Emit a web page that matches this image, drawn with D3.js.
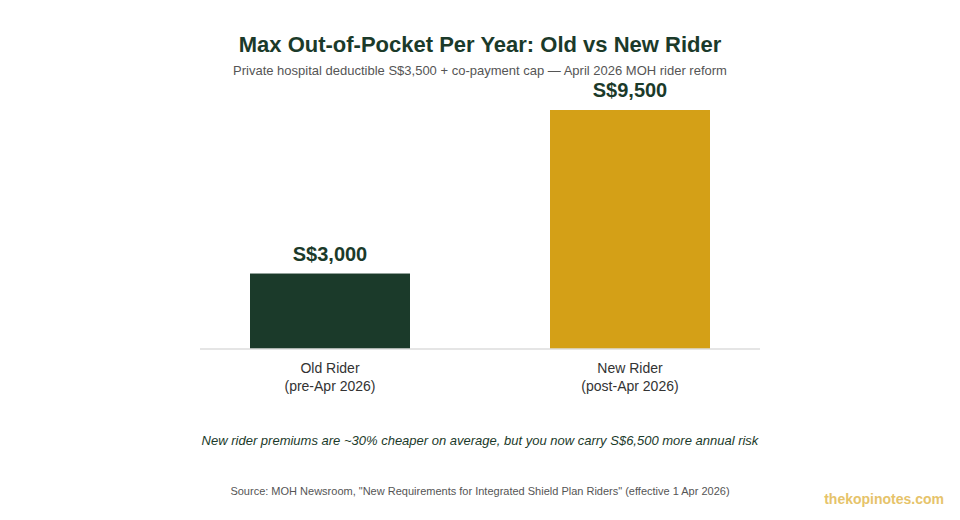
<!DOCTYPE html>
<html>
<head>
<meta charset="utf-8">
<script src="https://cdn.jsdelivr.net/npm/d3@7"></script>
<style>
  body { margin: 0; background: #fff; }
  svg { display: block; font-family: "Liberation Sans", Arial, Helvetica, sans-serif; }
</style>
</head>
<body>
<svg id="chart" width="960" height="520"></svg>
<script>
// data
const riders = ["Old Rider", "New Rider"];
const riderNotes = ["(pre-Apr 2026)", "(post-Apr 2026)"];
const maxOutOfPocket = [3000, 9500];
const barColors = ["#1b3a2a", "#d4a017"];

const svg = d3.select("#chart");
const green = "#1b3a2a";

const x = d3.scaleBand()
  .domain(riders)
  .range([200, 760])
  .paddingInner(0.4667)
  .paddingOuter(0.1667);

const y = d3.scaleLinear()
  .domain([0, d3.max(maxOutOfPocket)])
  .range([349, 110]);

// title
svg.append("text")
  .attr("x", 480).attr("y", 52)
  .attr("text-anchor", "middle")
  .attr("font-size", 22).attr("font-weight", "bold")
  .attr("fill", green)
  .text("Max Out-of-Pocket Per Year: Old vs New Rider");

svg.append("text")
  .attr("x", 480).attr("y", 75)
  .attr("text-anchor", "middle")
  .attr("font-size", 13)
  .attr("fill", "#555")
  .text("Private hospital deductible S$3,500 + co-payment cap \u2014 April 2026 MOH rider reform");

// bars
svg.selectAll("rect.bar")
  .data(riders)
  .enter().append("rect")
  .attr("class", "bar")
  .attr("x", d => x(d))
  .attr("width", x.bandwidth())
  .attr("y", (d, i) => y(maxOutOfPocket[i]))
  .attr("height", (d, i) => y(0) - y(maxOutOfPocket[i]))
  .attr("fill", (d, i) => barColors[i]);

// baseline
svg.append("line")
  .attr("x1", 200).attr("x2", 760)
  .attr("y1", y(0)).attr("y2", y(0))
  .attr("stroke", "#ddd").attr("stroke-width", 1.5);

// value labels
svg.selectAll("text.val")
  .data(riders)
  .enter().append("text")
  .attr("class", "val")
  .attr("x", d => x(d) + x.bandwidth() / 2)
  .attr("y", (d, i) => y(maxOutOfPocket[i]) - 13)
  .attr("text-anchor", "middle")
  .attr("font-size", 20).attr("font-weight", "bold")
  .attr("fill", green)
  .text((d, i) => "S$" + d3.format(",")(maxOutOfPocket[i]));

// category labels
const cat = svg.selectAll("text.cat")
  .data(riders)
  .enter().append("text")
  .attr("class", "cat")
  .attr("text-anchor", "middle")
  .attr("font-size", 14)
  .attr("fill", "#333");
cat.append("tspan")
  .attr("x", d => x(d) + x.bandwidth() / 2)
  .attr("y", 373)
  .text(d => d);
cat.append("tspan")
  .attr("x", d => x(d) + x.bandwidth() / 2)
  .attr("y", 391)
  .text((d, i) => riderNotes[i]);

// note
svg.append("text")
  .attr("x", 480).attr("y", 445)
  .attr("text-anchor", "middle")
  .attr("font-size", 13).attr("font-style", "italic")
  .attr("fill", green)
  .text("New rider premiums are ~30% cheaper on average, but you now carry S$6,500 more annual risk");

svg.append("text")
  .attr("x", 480).attr("y", 495)
  .attr("text-anchor", "middle")
  .attr("font-size", 11)
  .attr("fill", "#555")
  .text("Source: MOH Newsroom, \"New Requirements for Integrated Shield Plan Riders\" (effective 1 Apr 2026)");

svg.append("text")
  .attr("x", 944).attr("y", 504)
  .attr("text-anchor", "end")
  .attr("font-size", 14).attr("font-weight", "bold")
  .attr("fill", "#e6c36a")
  .text("thekopinotes.com");
</script>
</body>
</html>
